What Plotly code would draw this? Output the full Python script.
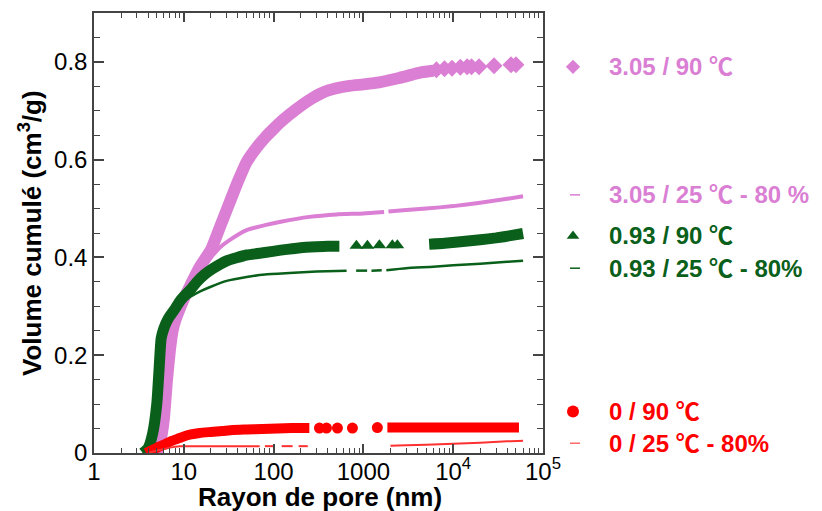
import plotly.graph_objects as go

# ---------------- data ----------------
# 3.05 / 90 °C  (diamonds) : dense part and isolated points
v90_x = [5.0, 5.5, 6.0, 6.5, 7.0, 7.5, 8.0, 9.0, 10, 12, 15, 20, 25, 32, 40, 50, 65, 80,
         100, 125, 170, 250, 350, 500, 700, 1000, 1500, 2500, 3500, 4500, 6000]
v90_y = [0.0, 0.025, 0.07, 0.15, 0.21, 0.25, 0.27, 0.295, 0.315, 0.345, 0.38, 0.415, 0.46,
         0.51, 0.555, 0.595, 0.625, 0.645, 0.663, 0.68, 0.70, 0.722, 0.737, 0.746, 0.751,
         0.754, 0.758, 0.767, 0.774, 0.779, 0.782]
v90_sx = [6500, 8000, 9700, 12000, 14300, 16000, 19400, 28500, 44000, 50000]
v90_sy = [0.784, 0.786, 0.787, 0.789, 0.790, 0.790, 0.790, 0.792, 0.794, 0.794]

# 3.05 / 25 °C - 80 %  (thin line)
v25_x = [5.0, 5.5, 6.0, 6.5, 7.0, 7.5, 8.0, 9.0, 10, 12, 15, 20, 25, 32, 50, 80, 120, 250,
         500, 1000, 1700, None, 1900, 3000, 5000, 10000, 20000, 40000, 60000]
v25_y = [0.0, 0.025, 0.07, 0.15, 0.21, 0.25, 0.27, 0.295, 0.315, 0.345, 0.375, 0.40, 0.42,
         0.435, 0.456, 0.466, 0.473, 0.483, 0.488, 0.490, 0.493, None, 0.494, 0.497, 0.500,
         0.505, 0.512, 0.520, 0.525]

# 0.93 / 90 °C  (triangles)
g90_x = [3.5, 4.0, 4.5, 5.0, 5.3, 5.6, 6.0, 6.5, 7.0, 8.0, 9.0, 10, 12, 14, 17, 21, 30, 50,
         80, 120, 200, 300, 400, 540]
g90_y = [0.0, 0.01, 0.04, 0.10, 0.17, 0.235, 0.255, 0.27, 0.28, 0.295, 0.31, 0.32, 0.335,
         0.35, 0.365, 0.377, 0.393, 0.405, 0.41, 0.415, 0.42, 0.422, 0.423, 0.423]
g90_sx = [836, 1108, 1506, 2100, 2390]
g90_sy = [0.424, 0.424, 0.425, 0.425, 0.425]
g90_x2 = [5400, 8000, 12000, 20000, 30000, 45000, 60000]
g90_y2 = [0.427, 0.429, 0.432, 0.436, 0.440, 0.445, 0.449]

# 0.93 / 25 °C - 80 %  (thin line)
g25_x = [3.5, 4.0, 4.5, 5.0, 5.3, 5.6, 6.0, 6.5, 7, 8, 9, 10, 12, 15, 20, 30, 50, 80, 150,
         300, 650, None, 830, 1100, None, 1230, 1600, None, 1800, 3000, 6000, 10000, 20000,
         40000, 60000]
g25_y = [0.0, 0.01, 0.03, 0.09, 0.16, 0.23, 0.25, 0.265, 0.275, 0.29, 0.30, 0.31, 0.32,
         0.33, 0.34, 0.352, 0.36, 0.365, 0.368, 0.371, 0.373, None, 0.373, 0.373, None,
         0.373, 0.374, None, 0.374, 0.378, 0.381, 0.384, 0.387, 0.391, 0.393]

# 0 / 90 °C  (circles)
r90_x = [3.8, 4.2, 4.7, 5.3, 6, 7, 8.5, 10, 12, 15, 20, 27, 35, 50, 75, 110, 160, 250]
r90_y = [0.0, 0.004, 0.008, 0.013, 0.017, 0.023, 0.029, 0.034, 0.038, 0.041, 0.043, 0.045,
         0.047, 0.048, 0.049, 0.050, 0.051, 0.051]
r90_sx = [324, 388, 514, 755, 1430]
r90_sy = [0.051, 0.051, 0.051, 0.051, 0.052]
r90_x2 = [1850, 3000, 5000, 10000, 20000, 35000, 54000]
r90_y2 = [0.052, 0.052, 0.052, 0.052, 0.052, 0.052, 0.052]

# 0 / 25 °C - 80 %  (thin line)
r25_x = [4.0, 5, 6, 7, 8, 9, 10, 20, 40, 70, None, 80, 100, None, 123, 163, None, 190, 240,
         None, 2000, 3000, 5000, 10000, 20000, 40000, 60000]
r25_y = [0.0, 0.005, 0.008, 0.011, 0.013, 0.014, 0.014, 0.014, 0.014, 0.014, None, 0.014,
         0.014, None, 0.014, 0.014, None, 0.014, 0.014, None, 0.015, 0.016, 0.017, 0.019,
         0.021, 0.024, 0.025]

# labels
x_tickvals = [1, 10, 100, 1000, 1e4, 1e5]
x_ticktext = ["1", "10", "100", "1000", "10<sup>4</sup>", "10<sup>5</sup>"]
y_tickvals = [0, 0.2, 0.4, 0.6, 0.8]
y_ticktext = ["0", "0.2", "0.4", "0.6", "0.8"]

labels = ["3.05 / 90 \u2103", "3.05 / 25 \u2103 - 80 %", "0.93 / 90 \u2103",
          "0.93 / 25 \u2103 - 80%", "0 / 90 \u2103", "0 / 25 \u2103 - 80%"]
label_y = [0.790, 0.528, 0.444, 0.378, 0.085, 0.020]

# ---------------- styles ----------------
VIOLET = "#DA7FD4"
GREEN = "#0A601A"
RED = "#FF0000"
RED_LINE = "#FF3030"
FONT = "Liberation Sans, Arial, sans-serif"
LEG_FONT = "Liberation Sans, Noto Sans CJK JP, sans-serif"
AX = "#444444"

fig = go.Figure()

def band(x, y, color, width):
    fig.add_trace(go.Scatter(x=x, y=y, mode="lines",
                             line=dict(color=color, width=width, shape="spline", smoothing=0.5),
                             connectgaps=False, hoverinfo="skip", showlegend=False))

def pts(x, y, color, symbol, size):
    fig.add_trace(go.Scatter(x=x, y=y, mode="markers",
                             marker=dict(color=color, symbol=symbol, size=size, line=dict(width=0)),
                             hoverinfo="skip", showlegend=False))

# violet
band(v90_x, v90_y, VIOLET, 12)
pts(v90_sx, v90_sy, VIOLET, "diamond", 13)
band(v25_x, v25_y, VIOLET, 4)
# green
band(g90_x, g90_y, GREEN, 11)
pts(g90_sx, g90_sy, GREEN, "triangle-up", 12)
band(g90_x2, g90_y2, GREEN, 11)
band(g25_x, g25_y, GREEN, 2.5)
# red
band(r90_x, r90_y, RED, 10)
pts(r90_sx, r90_sy, RED, "circle", 11)
band(r90_x2, r90_y2, RED, 10)
band(r25_x, r25_y, RED_LINE, 2)

# the page body has an 8 px margin: figure is sized/offset to compensate
OFF = 8
W, H = 822 - OFF, 511 - OFF
LEFT, RIGHT, TOP, BOTTOM = 94 - OFF, 543 - OFF, 13 - OFF, 453 - OFF
MR = 2
plot_w = W - LEFT - MR
plot_h = BOTTOM - TOP
split = (RIGHT - LEFT) / plot_w

# --- custom legend on a hidden side axis (page pixel coordinates) ---
MARK_X = 573
DASH_X = [570, 580]
TEXT_X = 607
colors = [VIOLET, VIOLET, GREEN, GREEN, RED, "#FF6A6A"]
text_colors = [VIOLET, VIOLET, GREEN, GREEN, RED, RED]
kinds = ["diamond", "dash", "triangle-up", "dash", "circle", "dash"]
for lab, yv, c, tc, k in zip(labels, label_y, colors, text_colors, kinds):
    if k == "dash":
        fig.add_trace(go.Scatter(x=DASH_X, y=[yv, yv], xaxis="x2", yaxis="y", mode="lines",
                                 line=dict(color=c, width=1.5), hoverinfo="skip", showlegend=False))
    else:
        fig.add_trace(go.Scatter(x=[MARK_X], y=[yv], xaxis="x2", yaxis="y", mode="markers",
                                 marker=dict(color=c, symbol=k, size=12 if k == "circle" else 11),
                                 hoverinfo="skip", showlegend=False))
    fig.add_annotation(x=TEXT_X, y=yv, xref="x2", yref="y", xanchor="left", yanchor="middle",
                       text="<b>" + lab + "</b>", showarrow=False,
                       font=dict(family=LEG_FONT, size=24, color=tc))

# axis titles as annotations (exact placement)
fig.add_annotation(text="<b>Rayon de pore (nm)</b>", xref="paper", yref="paper",
                   x=((320 - OFF) - LEFT) / plot_w, y=-((497 - OFF) - BOTTOM) / plot_h,
                   xanchor="center", yanchor="middle", showarrow=False,
                   font=dict(family=FONT, size=26, color="black"))
fig.add_annotation(text="<b>Volume cumulé (cm<sup>3</sup>/g)</b>", xref="paper", yref="paper",
                   x=((30 - OFF) - LEFT) / plot_w, y=0.5, textangle=-90,
                   xanchor="center", yanchor="middle", showarrow=False,
                   font=dict(family=FONT, size=26, color="black"))

fig.update_layout(
    width=W, height=H,
    margin=dict(l=LEFT, r=MR, t=TOP, b=H - BOTTOM, pad=0),
    paper_bgcolor="white", plot_bgcolor="white",
    font=dict(family=FONT, color="black"),
    showlegend=False,
    xaxis=dict(
        type="log", range=[0, 5], domain=[0, split], anchor="y",
        showline=True, linecolor=AX, linewidth=1.5, mirror="ticks",
        ticks="inside", ticklen=9, tickwidth=1.5, tickcolor=AX,
        tickvals=x_tickvals, ticktext=x_ticktext, ticklabelstandoff=-4,
        tickfont=dict(size=24, family=FONT, color="black"),
        showgrid=False, zeroline=False,
        minor=dict(ticks="inside", ticklen=5, tickwidth=1.2, tickcolor=AX, showgrid=False,
                   tickvals=[m * 10 ** d for d in range(0, 5) for m in range(2, 10)]),
        automargin=False,
    ),
    yaxis=dict(
        range=[0, 0.9], anchor="x",
        showline=True, linecolor=AX, linewidth=1.5, mirror="ticks",
        ticks="inside", ticklen=10, tickwidth=1.5, tickcolor=AX,
        tickvals=y_tickvals, ticktext=y_ticktext,
        tickfont=dict(size=24, family=FONT, color="black"),
        showgrid=False, zeroline=False,
        minor=dict(ticks="inside", ticklen=6, tickwidth=1.2, tickcolor=AX, dtick=0.05, showgrid=False),
        automargin=False,
    ),
    xaxis2=dict(domain=[split, 1], range=[RIGHT + OFF, W - MR + OFF], anchor="y", visible=False,
                showgrid=False, zeroline=False, fixedrange=True),
)

fig.write_html("out.html")
